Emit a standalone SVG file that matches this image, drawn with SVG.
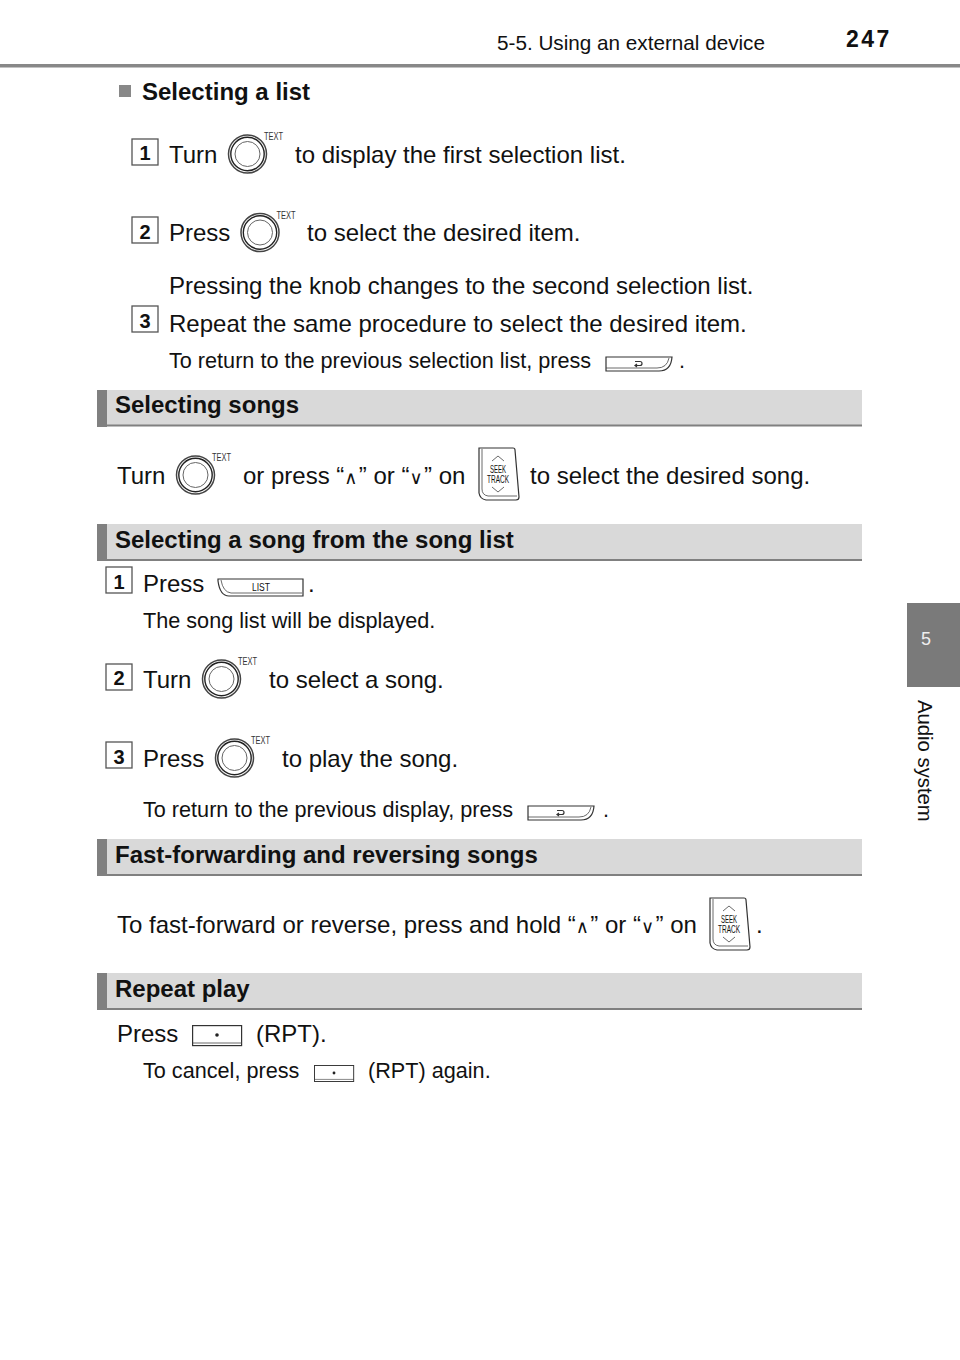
<svg xmlns="http://www.w3.org/2000/svg" width="960" height="1360" viewBox="0 0 960 1360">
<style>
text{font-family:"Liberation Sans",Arial,sans-serif;fill:#111}
.b{font-size:24px}.s{font-size:21.650px}.h{font-size:24px;font-weight:bold}
.n{font-size:20px;font-weight:bold;text-anchor:middle}
.box{fill:#fff;stroke:#555;stroke-width:1.3}
.l{fill:none;stroke:#333;stroke-width:1.2}
.t{fill:none;stroke:#444;stroke-width:.8}
.k{font-size:10px;fill:#333}
.m{font-family:"DejaVu Sans",sans-serif;font-size:18px;letter-spacing:1.300px}
</style>
<defs>
<g id="knob"><circle r="19" fill="#fff" stroke="#444" stroke-width="1.5"/><circle r="16.700" fill="none" stroke="#222" stroke-width="1.400"/><circle r="12.500" fill="none" stroke="#666"/><text x="16.500" y="-14" class="k" textLength="19" lengthAdjust="spacingAndGlyphs">TEXT</text></g>
<g id="seek"><path class="l" d="M3 1H37Q39 1 39 3L43 50Q43 53 40 53H10Q4 52 3 46Z"/><path class="t" d="M6 2V42Q6 48 12 49H41"/><path class="t" d="M16 14L22 9L28 14M16 40L22 45L28 40"/><text x="22" y="26" text-anchor="middle" font-size="10" textLength="16" lengthAdjust="spacingAndGlyphs">SEEK</text><text x="22" y="36" text-anchor="middle" font-size="10" textLength="22" lengthAdjust="spacingAndGlyphs">TRACK</text></g>
<g id="back"><path class="l" d="M1 1H67Q66 15 54 15H1Z"/><path class="t" d="M64 2Q62 12 52 12H1"/><path class="l" d="M30 5.500H35Q37 5.500 37 7.500Q37 9.500 35 9.500H30M32 8L30 9.500L32 11" stroke-width=".9"/></g>
<g id="list"><path class="l" d="M1 1H86V18H12Q3 18 1 3Z"/><path class="t" d="M4 2Q6 14 14 15H85"/><text x="35" y="13" font-size="10" textLength="18" lengthAdjust="spacingAndGlyphs">LIST</text></g>
<g id="dot"><rect class="l" x=".6" y=".6" width="49" height="20"/><path class="t" d="M.6 18H50"/><circle cx="25" cy="10" r="1.800" fill="#222"/></g>
</defs>

<g id="header">
<text x="497" y="50" font-size="20.700">5-5. Using an external device</text>
<text x="846" y="47" font-size="23" font-weight="bold" letter-spacing="2.500">247</text>
<rect y="64" width="960" height="3.500" fill="#888"/>
</g>
<g id="side-tab">
<rect x="907" y="603" width="53" height="84" fill="#7a7a7a"/>
<text x="921" y="645" font-size="18" style="fill:#eee">5</text>
<text transform="translate(918 700) rotate(90)" font-size="20.300">Audio system</text>
</g>

<g id="sec-list">
<rect x="119" y="85" width="12" height="12" fill="#888"/>
<text x="142" y="100" class="h">Selecting a list</text>
<rect class="box" x="132" y="139" width="26" height="26"/><text x="145" y="160" class="n">1</text>
<text x="169" y="163" class="b">Turn</text><use href="#knob" x="247.500" y="154"/><text x="295" y="163" class="b">to display the first selection list.</text>
<rect class="box" x="132" y="217" width="26" height="26"/><text x="145" y="239" class="n">2</text>
<text x="169" y="241" class="b">Press</text><use href="#knob" x="260" y="232.500"/><text x="307" y="241" class="b">to select the desired item.</text>
<text x="169" y="294" class="b">Pressing the knob changes to the second selection list.</text>
<rect class="box" x="132" y="306" width="26" height="26"/><text x="145" y="328" class="n">3</text>
<text x="169" y="332" class="b">Repeat the same procedure to select the desired item.</text>
<text x="169" y="368" class="s">To return to the previous selection list, press</text><use href="#back" x="605" y="356"/><text x="679" y="368" class="s">.</text>
</g>

<g id="sec-songs">
<rect x="97" y="390" width="765" height="36" fill="#d9d9d9"/><rect x="97" y="424.500" width="765" height="2" fill="#808080"/><rect x="97" y="390" width="10" height="37" fill="#808080"/>
<text x="115" y="413" class="h">Selecting songs</text>
<text x="117" y="484" class="b">Turn</text><use href="#knob" x="195.500" y="475"/>
<text x="243" y="484" class="b">or press “<tspan class="m">∧</tspan>” or “<tspan class="m">∨</tspan>” on</text><use href="#seek" x="476" y="447"/>
<text x="530" y="484" class="b">to select the desired song.</text>
</g>

<g id="sec-songlist">
<rect x="97" y="524" width="765" height="36" fill="#d9d9d9"/><rect x="97" y="559" width="765" height="2" fill="#808080"/><rect x="97" y="524" width="10" height="37" fill="#808080"/>
<text x="115" y="548" class="h">Selecting a song from the song list</text>
<rect class="box" x="106" y="567" width="26" height="26"/><text x="119" y="589" class="n">1</text>
<text x="143" y="592" class="b">Press</text><use href="#list" x="217" y="578"/><text x="308" y="592" class="b">.</text>
<text x="143" y="628" class="s">The song list will be displayed.</text>
<rect class="box" x="106" y="664" width="26" height="26"/><text x="119" y="685" class="n">2</text>
<text x="143" y="688" class="b">Turn</text><use href="#knob" x="221.500" y="679"/><text x="269" y="688" class="b">to select a song.</text>
<rect class="box" x="106" y="742" width="26" height="26"/><text x="119" y="764" class="n">3</text>
<text x="143" y="767" class="b">Press</text><use href="#knob" x="234.500" y="758"/><text x="282" y="767" class="b">to play the song.</text>
<text x="143" y="817" class="s">To return to the previous display, press</text><use href="#back" x="527" y="805"/><text x="603" y="817" class="s">.</text>
</g>

<g id="sec-ff">
<rect x="97" y="839" width="765" height="36" fill="#d9d9d9"/><rect x="97" y="874" width="765" height="2" fill="#808080"/><rect x="97" y="839" width="10" height="37" fill="#808080"/>
<text x="115" y="863" class="h">Fast-forwarding and reversing songs</text>
<text x="117" y="933" class="b">To fast-forward or reverse, press and hold “<tspan class="m">∧</tspan>” or “<tspan class="m">∨</tspan>” on</text><use href="#seek" x="707" y="897"/><text x="756" y="933" class="b">.</text>
</g>

<g id="sec-repeat">
<rect x="97" y="973" width="765" height="36" fill="#d9d9d9"/><rect x="97" y="1008" width="765" height="2" fill="#808080"/><rect x="97" y="973" width="10" height="37" fill="#808080"/>
<text x="115" y="997" class="h">Repeat play</text>
<text x="117" y="1042" class="b">Press</text><use href="#dot" x="192" y="1025"/><text x="256" y="1042" class="b">(RPT).</text>
<text x="143" y="1078" class="s">To cancel, press</text><use href="#dot" transform="translate(314 1065) scale(.8)"/><text x="368" y="1078" class="s">(RPT) again.</text>
</g>
</svg>
